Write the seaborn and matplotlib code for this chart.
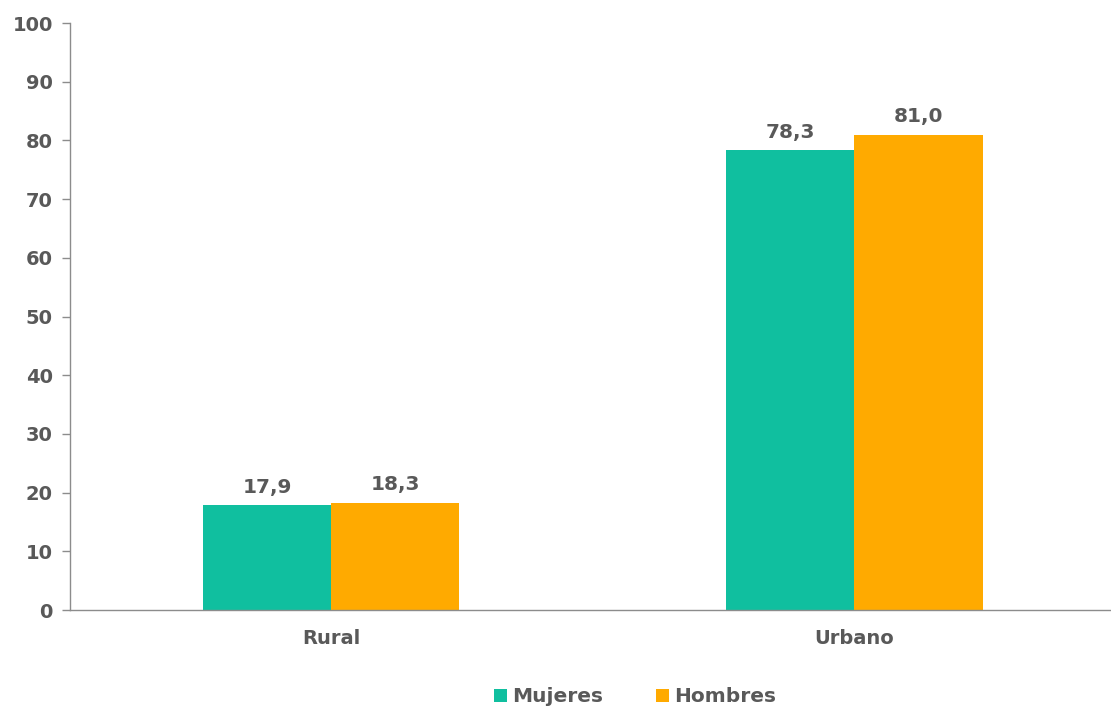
import matplotlib
matplotlib.use("Agg")
import matplotlib.pyplot as plt
import seaborn as sns
import pandas as pd
from matplotlib.ticker import FixedLocator
from matplotlib.patches import Patch

categories = ["Rural", "Urbano"]
mujeres = [17.9, 78.3]
hombres = [18.3, 81.0]
series_names = ["Mujeres", "Hombres"]
colors = ["#10BF9F", "#FFAA00"]
yticks = list(range(0, 101, 10))

df = pd.DataFrame({
    "cat": categories * 2,
    "serie": [series_names[0]] * 2 + [series_names[1]] * 2,
    "val": mujeres + hombres,
})

sns.set_style("white")
plt.rcParams["font.family"] = ["DejaVu Sans"]
plt.rcParams["font.weight"] = "bold"
TXT = "#595959"

fig = plt.figure(figsize=(11.11, 7.11), dpi=100)
ax = fig.add_axes([69.5 / 1111, 1 - 610 / 711, (1116 - 69.5) / 1111, (610 - 23) / 711])
ax.patch.set_alpha(0)

sns.barplot(data=df, x="cat", y="val", hue="serie", palette=colors,
            width=0.49, ax=ax, legend=False, saturation=1, linewidth=0)

for cont in ax.containers:
    ax.bar_label(cont, labels=[f"{v:.1f}".replace(".", ",") for v in cont.datavalues],
                 padding=6, fontsize=14.5, fontweight="bold", color=TXT)

ax.set_ylim(0, 100)
ax.set_xlim(-0.5, 1.5)
ax.set_yticks(yticks)
ax.set_yticklabels([str(t) for t in yticks], fontsize=14, fontweight="bold", color=TXT)
ax.set_xticks([0, 1])
ax.set_xticklabels(categories, fontsize=14, fontweight="bold", color=TXT)
ax.xaxis.set_minor_locator(FixedLocator([-0.5, 0.5, 1.5]))
ax.tick_params(axis="x", which="major", length=0, pad=14)
ax.tick_params(axis="x", which="minor", length=6, width=1, color="#8c8c8c", direction="out")
ax.tick_params(axis="y", length=6, width=1, color="#8c8c8c", direction="out", pad=6, left=True)
ax.set_xlabel("")
ax.set_ylabel("")

for s in ["top", "right"]:
    ax.spines[s].set_visible(False)
for s in ["left", "bottom"]:
    ax.spines[s].set_color("#8c8c8c")
    ax.spines[s].set_linewidth(1)

handles = [Patch(facecolor=c, edgecolor="none") for c in colors]
fig.legend(handles, series_names, loc="center", bbox_to_anchor=(635 / 1111, 1 - 697 / 711),
           ncol=2, frameon=False, handlelength=0.65, handleheight=0.65, handletextpad=0.25,
           columnspacing=2.6, prop={"size": 14.5, "weight": "bold"}, labelcolor=TXT)

fig.savefig("out.png", dpi=100)
